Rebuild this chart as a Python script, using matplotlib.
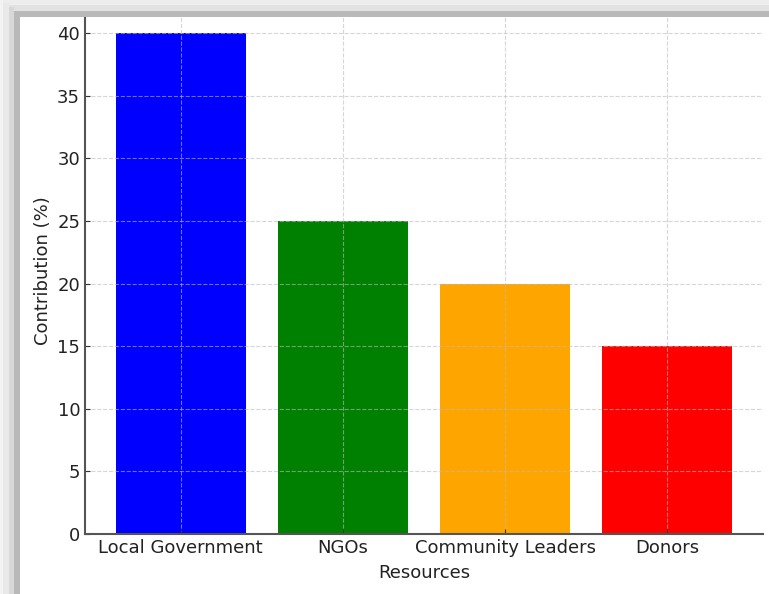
import matplotlib
matplotlib.use('Agg')
import matplotlib.pyplot as plt
from matplotlib.patches import Rectangle

resources = ['Local Government', 'NGOs', 'Community Leaders', 'Donors']
contribution = [40, 25, 20, 15]
bar_colors = ['blue', 'green', 'orange', 'red']

W, H = 769, 594
fig = plt.figure(figsize=(W / 100, H / 100), dpi=100)
ax = fig.add_axes([85 / W, 60 / H, (763 - 85) / W, (586 - 60) / H])

ax.bar(resources, contribution, color=bar_colors, width=0.8)
ax.set_ylim(0, 42)
ax.set_xlabel('Resources', fontsize=13, color='#222222', labelpad=5)
ax.set_ylabel('Contribution (%)', fontsize=13, color='#222222')
ax.tick_params(labelsize=13, direction='in', color='#333333', labelcolor='#222222')
ax.grid(True, linestyle='--', color='#bbbbbb', alpha=0.6)
for s in ['top', 'right']:
    ax.spines[s].set_visible(False)
for s in ['left', 'bottom']:
    ax.spines[s].set_color('#555555')
    ax.spines[s].set_linewidth(1.5)

# screenshot shadow frame
bands_top = [(0, 5, '#ededed'), (5, 11, '#e2e2e2'), (11, 17, '#b9b9b9')]
for y0, y1, c in bands_top:
    fig.add_artist(Rectangle((0, 1 - y1 / H), 1, (y1 - y0) / H, transform=fig.transFigure,
                             facecolor=c, linewidth=0, zorder=10))
bands_left = [(0, 3, '#f3f3f3', 0), (3, 9, '#e9e9e9', 3), (9, 14, '#d8d8d8', 7), (14, 20, '#b9b9b9', 11)]
for x0, x1, c, top in bands_left:
    fig.add_artist(Rectangle((x0 / W, 0), (x1 - x0) / W, 1 - top / H, transform=fig.transFigure,
                             facecolor=c, linewidth=0, zorder=11))

fig.savefig('out.png', dpi=100)
